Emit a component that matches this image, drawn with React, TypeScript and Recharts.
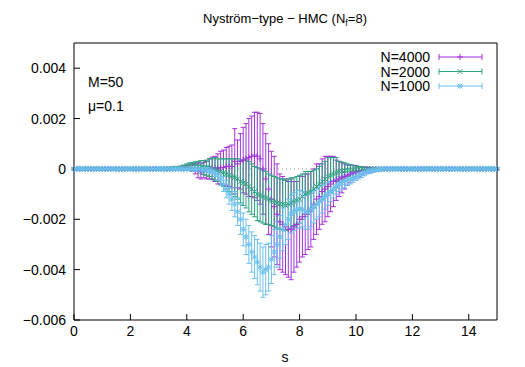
import React from 'react';
import { ComposedChart, Scatter, ErrorBar, XAxis, YAxis, ReferenceLine } from 'recharts';

// sampling grid in s, step 0.1 from 0 to 15
const S = Array.from({ length: 151 }, (_, i) => i / 10);

// correlator values and errors, in units of 1e-3
const V4000 = [
  0, 0, 0, 0, 0, 0, 0, 0, 0, 0,
  0, 0, 0, 0, 0, 0, 0, 0, 0, 0,
  0, 0, 0, 0, 0, 0, 0, 0, 0, 0,
  0, 0, 0, 0, 0, 0.01, 0, 0.01, 0.02, 0.02,
  0.03, 0.05, 0.05, 0, -0.05, -0.1, -0.05, -0.05, 0, 0.02,
  0, 0, 0.05, 0.05, 0.1, 0.1, 0.1, 0.3, 0.2, 0.3,
  0.35, 0.4, 0.45, 0.5, 0.55, 0.5, 0.4, 0, -0.4, -0.8,
  -1.2, -1.5, -1.8, -2.1, -2.2, -2.3, -2.4, -2.4, -2.3, -2.2,
  -2.0, -1.9, -1.8, -1.7, -1.6, -1.4, -1.2, -1.1, -0.9, -0.8,
  -0.7, -0.6, -0.5, -0.45, -0.4, -0.35, -0.3, -0.25, -0.2, -0.15,
  -0.12, -0.1, -0.08, -0.05, -0.03, -0.02, -0.01, 0, 0, 0,
  0, 0, 0, 0, 0, 0, 0, 0, 0, 0,
  0, 0, 0, 0, 0, 0, 0, 0, 0, 0,
  0, 0, 0, 0, 0, 0, 0, 0, 0, 0,
  0, 0, 0, 0, 0, 0, 0, 0, 0, 0,
  0,
];
const E4000 = [
  0.04, 0.04, 0.04, 0.04, 0.04, 0.04, 0.04, 0.04, 0.04, 0.04,
  0.04, 0.04, 0.04, 0.04, 0.04, 0.04, 0.04, 0.04, 0.04, 0.04,
  0.04, 0.04, 0.04, 0.04, 0.04, 0.04, 0.04, 0.04, 0.04, 0.04,
  0.04, 0.04, 0.04, 0.04, 0.05, 0.05, 0.05, 0.06, 0.06, 0.07,
  0.08, 0.1, 0.15, 0.2, 0.3, 0.3, 0.3, 0.35, 0.4, 0.45,
  0.5, 0.6, 0.65, 0.7, 0.75, 0.8, 0.85, 1.3, 0.95, 1.1,
  1.3, 1.4, 1.55, 1.6, 1.7, 1.75, 1.8, 1.8, 1.8, 1.8,
  1.9, 2.0, 2.0, 1.9, 1.9, 1.9, 1.9, 2.0, 1.8, 1.7,
  1.7, 1.6, 1.6, 1.5, 1.5, 1.4, 1.4, 1.3, 1.3, 1.3,
  1.2, 1.1, 1.0, 0.8, 0.7, 0.6, 0.5, 0.4, 0.35, 0.3,
  0.25, 0.2, 0.15, 0.12, 0.1, 0.08, 0.06, 0.05, 0.05, 0.04,
  0.04, 0.04, 0.04, 0.04, 0.04, 0.04, 0.04, 0.04, 0.04, 0.04,
  0.04, 0.04, 0.04, 0.04, 0.04, 0.04, 0.04, 0.04, 0.04, 0.04,
  0.04, 0.04, 0.04, 0.04, 0.04, 0.04, 0.04, 0.04, 0.04, 0.04,
  0.04, 0.04, 0.04, 0.04, 0.04, 0.04, 0.04, 0.04, 0.04, 0.04,
  0.04,
];

const V2000 = [
  0, 0, 0, 0, 0, 0, 0, 0, 0, 0,
  0, 0, 0, 0, 0, 0, 0, 0, 0, 0,
  0, 0, 0, 0, 0, 0, 0, 0, 0, 0,
  0, 0, 0, 0.01, 0.01, 0.02, 0.02, 0.03, 0.05, 0.08,
  0.1, 0.12, 0.1, 0.1, 0.1, 0.08, 0.05, 0.05, 0.05, 0,
  0, -0.05, -0.1, -0.15, -0.2, -0.25, -0.3, -0.35, -0.4, -0.5,
  -0.55, -0.6, -0.7, -0.8, -0.9, -1.0, -1.05, -1.1, -1.15, -1.2,
  -1.25, -1.3, -1.35, -1.4, -1.4, -1.45, -1.4, -1.35, -1.3, -1.25,
  -1.2, -1.1, -1.0, -0.95, -0.9, -0.8, -0.7, -0.6, -0.5, -0.4,
  -0.3, -0.25, -0.2, -0.15, -0.1, -0.08, -0.06, -0.05, -0.04, -0.03,
  -0.02, -0.01, 0, 0, 0, 0, 0, 0, 0, 0,
  0, 0, 0, 0, 0, 0, 0, 0, 0, 0,
  0, 0, 0, 0, 0, 0, 0, 0, 0, 0,
  0, 0, 0, 0, 0, 0, 0, 0, 0, 0,
  0, 0, 0, 0, 0, 0, 0, 0, 0, 0,
  0,
];
const E2000 = [
  0.04, 0.04, 0.04, 0.04, 0.04, 0.04, 0.04, 0.04, 0.04, 0.04,
  0.04, 0.04, 0.04, 0.04, 0.04, 0.04, 0.04, 0.04, 0.04, 0.04,
  0.04, 0.04, 0.04, 0.04, 0.04, 0.04, 0.04, 0.04, 0.04, 0.04,
  0.04, 0.04, 0.04, 0.04, 0.05, 0.05, 0.05, 0.06, 0.06, 0.07,
  0.1, 0.12, 0.15, 0.18, 0.2, 0.25, 0.28, 0.3, 0.35, 0.4,
  0.45, 0.45, 0.5, 0.55, 0.6, 0.65, 0.7, 0.75, 0.8, 0.85,
  0.9, 0.95, 1.0, 1.0, 1.0, 1.05, 1.05, 1.05, 1.05, 1.0,
  1.0, 1.0, 1.0, 1.0, 1.0, 1.0, 1.0, 1.0, 0.95, 0.95,
  0.95, 0.9, 0.9, 0.85, 0.8, 0.75, 0.7, 0.7, 0.7, 0.7,
  0.75, 0.7, 0.65, 0.6, 0.4, 0.35, 0.3, 0.25, 0.2, 0.16,
  0.13, 0.1, 0.08, 0.06, 0.05, 0.05, 0.04, 0.04, 0.04, 0.04,
  0.04, 0.04, 0.04, 0.04, 0.04, 0.04, 0.04, 0.04, 0.04, 0.04,
  0.04, 0.04, 0.04, 0.04, 0.04, 0.04, 0.04, 0.04, 0.04, 0.04,
  0.04, 0.04, 0.04, 0.04, 0.04, 0.04, 0.04, 0.04, 0.04, 0.04,
  0.04, 0.04, 0.04, 0.04, 0.04, 0.04, 0.04, 0.04, 0.04, 0.04,
  0.04,
];

const V1000 = [
  0, 0, 0, 0, 0, 0, 0, 0, 0, 0,
  0, 0, 0, 0, 0, 0, 0, 0, 0, 0,
  0, 0, 0, 0, 0, 0, 0, 0, 0, 0,
  0, 0, 0, 0, 0, 0, 0, 0, 0, 0,
  0, 0, -0.01, -0.01, -0.02, -0.02, -0.03, -0.04, -0.05, -0.08,
  -0.15, -0.25, -0.4, -0.6, -0.8, -1.0, -1.2, -1.4, -1.7, -2.0,
  -2.4, -2.7, -3.0, -3.3, -3.5, -3.7, -3.9, -4.1, -4.0, -3.9,
  -3.6, -3.3, -3.0, -2.7, -2.4, -2.2, -2.0, -1.8, -1.7, -1.6,
  -1.6, -1.6, -1.7, -1.7, -1.6, -1.5, -1.4, -1.3, -1.2, -1.1,
  -1.0, -0.9, -0.8, -0.7, -0.6, -0.55, -0.5, -0.45, -0.4, -0.35,
  -0.3, -0.25, -0.2, -0.15, -0.1, -0.08, -0.05, -0.03, -0.02, -0.01,
  0, 0, 0, 0, 0, 0, 0, 0, 0, 0,
  0, 0, 0, 0, 0, 0, 0, 0, 0, 0,
  0, 0, 0, 0, 0, 0, 0, 0, 0, 0,
  0, 0, 0, 0, 0, 0, 0, 0, 0, 0,
  0,
];
const E1000 = [
  0.06, 0.06, 0.06, 0.06, 0.06, 0.06, 0.06, 0.06, 0.06, 0.06,
  0.06, 0.06, 0.06, 0.06, 0.06, 0.06, 0.06, 0.06, 0.06, 0.06,
  0.06, 0.06, 0.06, 0.06, 0.06, 0.06, 0.06, 0.06, 0.06, 0.06,
  0.06, 0.06, 0.06, 0.06, 0.06, 0.06, 0.06, 0.06, 0.06, 0.06,
  0.06, 0.06, 0.07, 0.07, 0.08, 0.08, 0.09, 0.1, 0.1, 0.12,
  0.15, 0.2, 0.25, 0.3, 0.35, 0.4, 0.45, 0.5, 0.55, 0.6,
  0.65, 0.7, 0.75, 0.8, 0.85, 0.9, 0.95, 1.0, 1.0, 0.95,
  0.95, 0.9, 0.9, 0.85, 0.85, 0.8, 0.8, 0.75, 0.75, 0.75,
  0.75, 0.7, 0.7, 0.7, 0.7, 0.65, 0.6, 0.6, 0.55, 0.5,
  0.45, 0.4, 0.35, 0.3, 0.3, 0.25, 0.25, 0.2, 0.2, 0.18,
  0.16, 0.15, 0.14, 0.12, 0.1, 0.1, 0.08, 0.08, 0.07, 0.06,
  0.06, 0.06, 0.06, 0.06, 0.06, 0.06, 0.06, 0.06, 0.06, 0.06,
  0.06, 0.06, 0.06, 0.06, 0.06, 0.06, 0.06, 0.06, 0.06, 0.06,
  0.06, 0.06, 0.06, 0.06, 0.06, 0.06, 0.06, 0.06, 0.06, 0.06,
  0.06, 0.06, 0.06, 0.06, 0.06, 0.06, 0.06, 0.06, 0.06, 0.06,
  0.06,
];

const X_TICKS = [0, 2, 4, 6, 8, 10, 12, 14];
const Y_TICKS = [-6, -4, -2, 0, 2, 4];

const FONT = '"Liberation Sans", Arial, Helvetica, sans-serif';
const C4000 = '#a431dc';
const C2000 = '#2aa57e';
const C1000 = '#6cc0ee';

const toPoints = (v: number[], e: number[]) => S.map((s, i) => ({ s, v: v[i], e: e[i] }));

type Marker = 'plus' | 'cross' | 'star';

const markerLines = (kind: Marker, cx: number, cy: number, r: number) => {
  const plus = [
    [cx - r, cy, cx + r, cy],
    [cx, cy - r, cx, cy + r],
  ];
  const d = r * 0.8;
  const cross = [
    [cx - d, cy - d, cx + d, cy + d],
    [cx - d, cy + d, cx + d, cy - d],
  ];
  if (kind === 'plus') return plus;
  if (kind === 'cross') return cross;
  return [...plus, ...cross];
};

const makeShape = (kind: Marker, color: string) => (props: any) => {
  const { cx, cy } = props;
  if (cx == null || cy == null) return <g />;
  return (
    <g stroke={color} strokeWidth={1}>
      {markerLines(kind, cx, cy, 3).map((l, i) => (
        <line key={i} x1={l[0]} y1={l[1]} x2={l[2]} y2={l[3]} />
      ))}
    </g>
  );
};

const SERIES = [
  { name: 'N=4000', color: C4000, marker: 'plus' as Marker, data: toPoints(V4000, E4000) },
  { name: 'N=2000', color: C2000, marker: 'cross' as Marker, data: toPoints(V2000, E2000) },
  { name: 'N=1000', color: C1000, marker: 'star' as Marker, data: toPoints(V1000, E1000) },
];

const fmtY = (v: number) => (v === 0 ? '0' : (v / 1000).toFixed(3).replace('-', '\u2212'));

const tickStyle = { fill: '#000', fontSize: 14, fontFamily: FONT };

export default function App() {
  return (
    <div style={{ position: 'absolute', left: 0, top: 0, width: 525, height: 367, background: '#fff' }}>
      <ComposedChart width={525} height={367} margin={{ top: 42, right: 27, bottom: 17, left: 14 }}>
        <XAxis
          xAxisId="b"
          dataKey="s"
          type="number"
          domain={[0, 15]}
          ticks={X_TICKS}
          height={30}
          tickSize={-6}
          tickMargin={12}
          stroke="#000"
          tick={tickStyle}
          allowDataOverflow
        />
        <XAxis
          xAxisId="t"
          orientation="top"
          type="number"
          domain={[0, 15]}
          ticks={X_TICKS}
          height={1}
          tickSize={-6}
          tick={false}
          stroke="#000"
        />
        <YAxis
          yAxisId="l"
          type="number"
          domain={[-6, 5]}
          ticks={Y_TICKS}
          width={60}
          tickSize={-6}
          tickMargin={14}
          tickFormatter={fmtY}
          stroke="#000"
          tick={tickStyle}
          allowDataOverflow
        />
        <YAxis
          yAxisId="r"
          orientation="right"
          type="number"
          domain={[-6, 5]}
          ticks={Y_TICKS}
          width={1}
          tickSize={-6}
          tick={false}
          stroke="#000"
        />
        <ReferenceLine xAxisId="b" yAxisId="l" y={0} stroke="#9a9a9a" strokeDasharray="1 3" />
        {SERIES.map((sr) => (
          <Scatter
            key={sr.name}
            xAxisId="b"
            yAxisId="l"
            name={sr.name}
            data={sr.data}
            dataKey="v"
            shape={makeShape(sr.marker, sr.color)}
            isAnimationActive={false}
          >
            <ErrorBar dataKey="e" direction="y" width={2.5} stroke={sr.color} strokeWidth={1} />
          </Scatter>
        ))}
      </ComposedChart>
      <svg
        width={525}
        height={367}
        style={{ position: 'absolute', left: 0, top: 0, pointerEvents: 'none' }}
        fontFamily={FONT}
      >
        <text x={285} y={23} fontSize={13} textAnchor="middle">
          Nyström−type − HMC (N<tspan fontSize={9} dy={3}>f</tspan>
          <tspan dy={-3}>=8)</tspan>
        </text>
        <text x={88} y={87} fontSize={14}>M=50</text>
        <text x={88} y={111} fontSize={14}>μ=0.1</text>
        <text x={285} y={362} fontSize={14} textAnchor="middle">s</text>
        {SERIES.map((sr, i) => {
          const y = 57 + i * 14.5;
          return (
            <g key={sr.name}>
              <text x={430} y={y + 5} fontSize={14} textAnchor="end">{sr.name}</text>
              <g stroke={sr.color} strokeWidth={1}>
                <line x1={439} y1={y} x2={482} y2={y} />
                <line x1={439} y1={y - 3} x2={439} y2={y + 3} />
                <line x1={482} y1={y - 3} x2={482} y2={y + 3} />
                {markerLines(sr.marker, 460, y, 3).map((l, k) => (
                  <line key={k} x1={l[0]} y1={l[1]} x2={l[2]} y2={l[3]} />
                ))}
              </g>
            </g>
          );
        })}
      </svg>
    </div>
  );
}
